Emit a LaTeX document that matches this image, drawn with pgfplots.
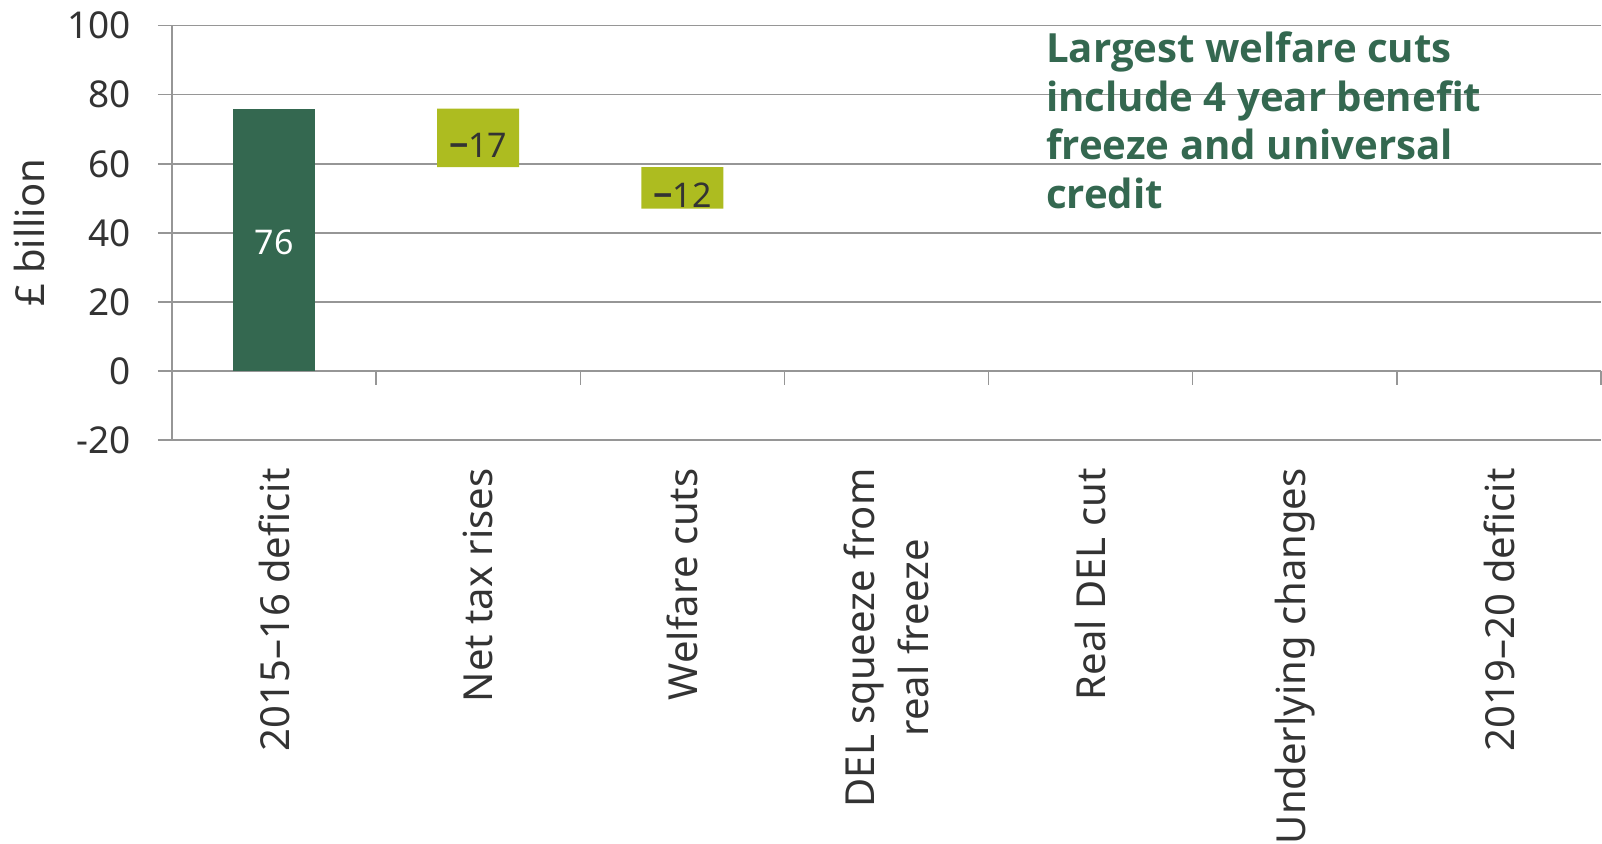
\documentclass[border=0pt]{standalone}
\usepackage{pgfplots}
\pgfplotsset{compat=1.18}
\usepackage{pgfplotstable}
\usepackage{fontspec}
\setmainfont{Noto Sans}
\setsansfont{Noto Sans}
\newfontfamily\notefont{Open Sans}

\definecolor{ifsgreen}{RGB}{52,104,80}
\definecolor{ifslime}{RGB}{173,188,32}
\definecolor{gridcol}{RGB}{150,150,150}
\definecolor{textgrey}{RGB}{51,51,51}

% base = invisible offset, deficit = full bar, cut = change from the previous level
\pgfplotstableread{
x base deficit cut
0 0  76 0
1 59 0  17
2 47 0  12
}\waterfall

\begin{document}
\begin{tikzpicture}
\begin{axis}[
  at={(0,0)}, anchor=south west,
  scale only axis, width=714.5pt, height=207.18pt,
  xmin=-0.5, xmax=6.5, ymin=-20, ymax=100,
  ybar stacked, bar width=41pt,
  axis lines*=left,
  axis line style={gridcol, line width=0.75pt},
  ymajorgrids, grid style={gridcol, line width=0.75pt},
  ytick={-20,0,20,40,60,80,100},
  ytick align=outside, major tick length=7pt,
  tick style={gridcol, line width=0.75pt},
  xtick={0,...,6},
  xticklabels={2015–16 deficit, Net tax rises, Welfare cuts, {DEL squeeze from\\real freeze}, Real DEL cut, Underlying changes, 2019–20 deficit},
  major x tick style={draw=none},
  xticklabel style={rotate=90, anchor=east, align=center, inner sep=0pt, font=\fontsize{20}{27}\selectfont, text=textgrey},
  xticklabel shift=14pt,
  yticklabel style={font=\fontsize{18.5}{20}\selectfont, text=textgrey, xshift=-10pt},
  /pgf/number format/assume math mode=true,
  ylabel={£ billion},
  every axis y label/.style={at={(axis description cs:-0.0994,0.5)}, rotate=90, anchor=center, font=\fontsize{20}{24}\selectfont, text=textgrey},
  clip=false,
  visualization depends on={rawy \as \rawy},
]
\addplot[draw=none, fill=none] table[x=x, y=base] {\waterfall};
\addplot[draw=none, fill=ifsgreen,
  nodes near coords={\ifdim\rawy pt>0pt \pgfmathprintnumber{\rawy}\fi},
  every node near coord/.style={anchor=center, yshift=-1.5pt, text=white, font=\fontsize{17}{20}\selectfont}]
  table[x=x, y=deficit] {\waterfall};
\addplot[draw=none, fill=ifslime,
  nodes near coords={\ifdim\rawy pt>0pt {\notefont\bfseries −}\pgfmathprintnumber{\rawy}\fi},
  every node near coord/.style={anchor=center, yshift=-3.7pt, text=textgrey, font=\fontsize{17}{20}\selectfont}]
  table[x=x, y=cut] {\waterfall};

% category separators on the zero line
\pgfplotsinvokeforeach{0.5,1.5,2.5,3.5,4.5,5.5,6.5}{
  \draw[gridcol, line width=0.75pt] (axis cs:#1,0) -- ++(0pt,-7pt);
}

\node[anchor=north west, inner sep=0pt, align=left, text=ifsgreen,
      font=\notefont\bfseries\fontsize{20.1}{24.3}\selectfont]
  at (axis cs:3.78,98.3) {Largest welfare cuts\\include 4 year benefit\\freeze and universal\\credit};
\end{axis}
\pgfresetboundingbox
\useasboundingbox (-86pt,-201.5pt) rectangle (715pt,220pt);
\end{tikzpicture}
\end{document}
